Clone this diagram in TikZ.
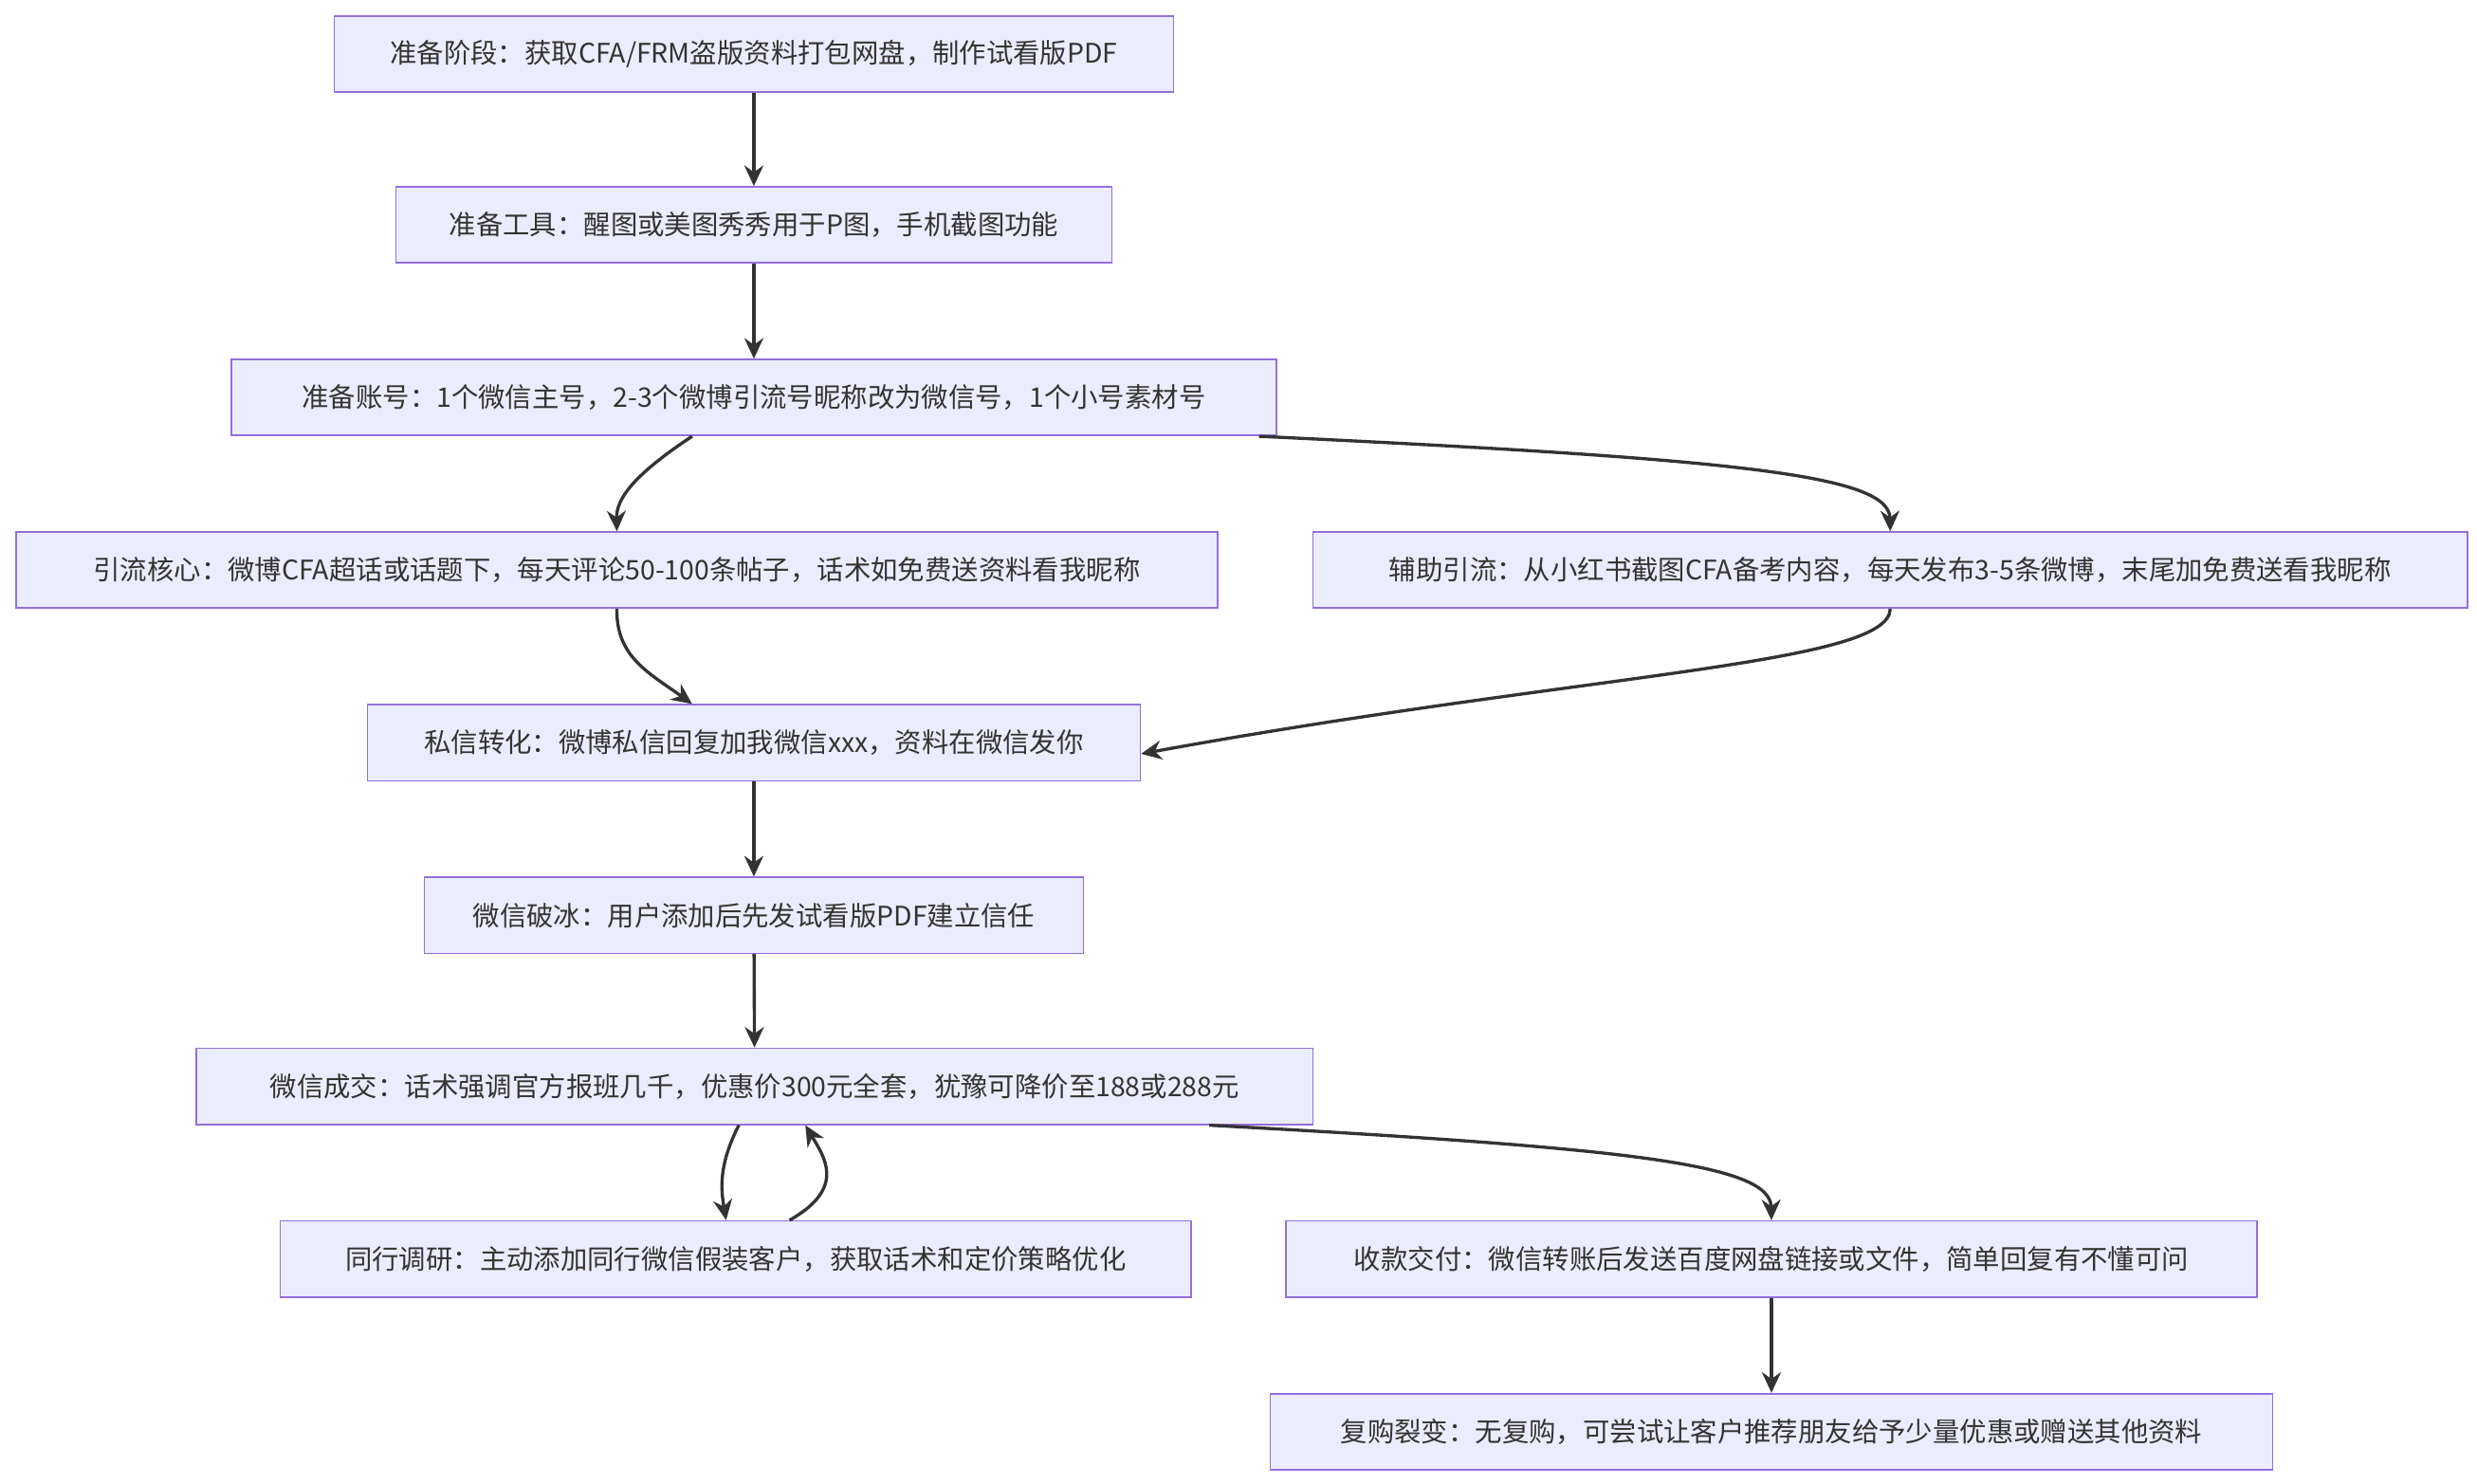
\documentclass[tikz,border=0pt]{standalone}
\usepackage{fontspec}
\setmainfont{Noto Sans CJK SC}
\usetikzlibrary{arrows.meta}
\definecolor{bfill}{HTML}{ECECFF}
\definecolor{bdraw}{HTML}{9370DB}
\definecolor{ink}{HTML}{333333}
\begin{document}
\begin{tikzpicture}[x=1pt,y=-1pt,
  box/.style={draw=bdraw,fill=bfill,line width=1pt,minimum height=48pt,inner sep=0pt,text=ink,font=\fontsize{17}{20}\selectfont},
  arr/.style={draw=ink,line width=2pt,-{Stealth[length=13pt,width=12pt]}}]
\useasboundingbox (0,0) rectangle (1564,937);
\node[box,minimum width=530pt] (n1) at (476,34) {准备阶段：获取CFA/FRM盗版资料打包网盘，制作试看版PDF};
\node[box,minimum width=452pt] (n2) at (476,142) {准备工具：醒图或美图秀秀用于P图，手机截图功能};
\node[box,minimum width=660pt] (n3) at (476,251) {准备账号：1个微信主号，2-3个微博引流号昵称改为微信号，1个小号素材号};
\node[box,minimum width=759pt] (n4) at (389.5,360) {引流核心：微博CFA超话或话题下，每天评论50-100条帖子，话术如免费送资料看我昵称};
\node[box,minimum width=729pt] (n5) at (1193.5,360) {辅助引流：从小红书截图CFA备考内容，每天发布3-5条微博，末尾加免费送看我昵称};
\node[box,minimum width=488pt] (n6) at (476,469) {私信转化：微博私信回复加我微信xxx，资料在微信发你};
\node[box,minimum width=416pt] (n7) at (476,578) {微信破冰：用户添加后先发试看版PDF建立信任};
\node[box,minimum width=705pt] (n8) at (476.5,686) {微信成交：话术强调官方报班几千，优惠价300元全套，犹豫可降价至188或288元};
\node[box,minimum width=575pt] (n9) at (464.5,795) {同行调研：主动添加同行微信假装客户，获取话术和定价策略优化};
\node[box,minimum width=613pt] (n10) at (1118.5,795) {收款交付：微信转账后发送百度网盘链接或文件，简单回复有不懂可问};
\node[box,minimum width=633pt] (n11) at (1118.5,904) {复购裂变：无复购，可尝试让客户推荐朋友给予少量优惠或赠送其他资料};
\draw[arr] (n1) -- (n2);
\draw[arr] (n2) -- (n3);
\draw[arr] ([xshift=-39pt]n3.south) .. controls (400,300) and (389,315) .. (n4.north);
\draw[arr] ([xshift=319pt]n3.south) .. controls (1100,290) and (1193,300) .. (n5.north);
\draw[arr] (n4.south) .. controls (389,415) and (410,425) .. ([xshift=-39pt]n6.north);
\draw[arr] (n5.south) .. controls (1193,420) and (1000,425) .. ([yshift=-7pt]n6.east);
\draw[arr] (n6) -- (n7);
\draw[arr] (n7) -- (n8);
\draw[arr] ([xshift=-10pt]n8.south) .. controls (454,735) and (455,750) .. ([xshift=-6pt]n9.north);
\draw[arr] ([xshift=34pt]n9.north) .. controls (535,750) and (520,730) .. ([xshift=32pt]n8.south);
\draw[arr] ([xshift=287pt]n8.south) .. controls (1030,725) and (1118,735) .. (n10.north);
\draw[arr] (n10) -- (n11);
\end{tikzpicture}
\end{document}
